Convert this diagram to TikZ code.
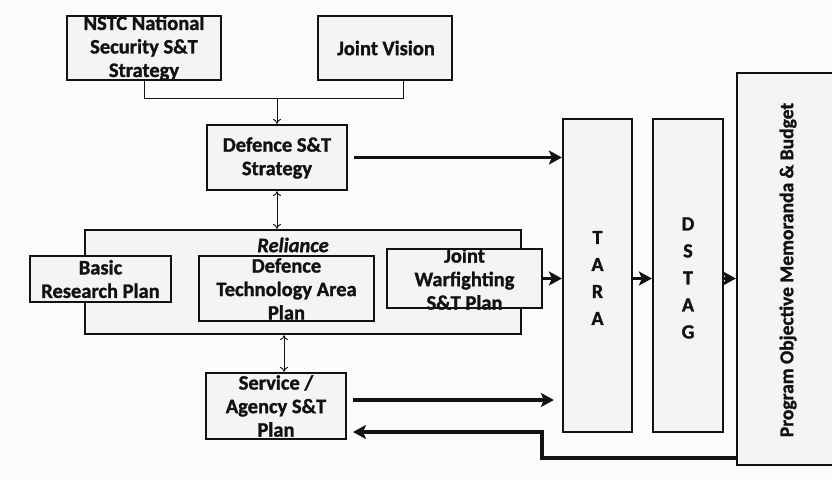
\documentclass[tikz,border=0pt]{standalone}
\usepackage{fontspec}
\setmainfont{Carlito}[BoldFeatures={FakeBold=1.3},BoldItalicFeatures={FakeBold=1.3}]
\usetikzlibrary{arrows.meta,calc}
\definecolor{bg}{gray}{0.985}
\definecolor{boxfill}{gray}{0.955}
\definecolor{ink}{gray}{0.07}
\begin{document}
\begin{tikzpicture}[x=1pt,y=-1pt,
 box/.style={draw=ink, line width=2.2pt, fill=boxfill, inner sep=0pt},
 lbl/.style={align=center, font=\fontsize{20.5}{23.5}\selectfont\bfseries, text=ink, inner sep=0pt},
 letters/.style={align=center, font=\fontsize{20}{27}\selectfont\bfseries, text=ink, inner sep=0pt},
 thin/.style={draw=ink, line width=0.9pt},
 thinarr/.style={thin, -{To[length=5pt,width=8pt]}},
 dblarr/.style={thin, {To[length=5pt,width=8pt]}-{To[length=5pt,width=8pt]}},
 bigarr/.style={draw=ink, line width=3.6pt, -{Stealth[length=13pt,width=14pt,inset=3pt]}}
]
\clip (0,0) rectangle (832,479);
\fill[bg] (0,0) rectangle (832,479);

% top boxes
\node[box, minimum width=154pt, minimum height=64pt] (nstc) at (144,48) {};
\node[lbl] (nstct) at (144,48) {NSTC National\\Security S\&T\\Strategy};
\node[box, minimum width=134pt, minimum height=64pt] (jv) at (385,48) {};
\node[lbl] (jvt) at (386,48) {Joint Vision};

% Defence S&T Strategy
\node[box, minimum width=140pt, minimum height=65pt] (def) at (277,157.5) {};
\node[lbl] (deft) at (277,158) {Defence S\&T\\Strategy};

% Reliance group
\node[box, minimum width=436pt, minimum height=104pt] (rel) at (303,282) {};
\node[lbl, font=\fontsize{20.5}{23.5}\selectfont\bfseries\itshape] (relt) at (293,245) {Reliance};
\node[box, minimum width=141pt, minimum height=46pt] (brp) at (100.5,279) {};
\node[lbl] (brpt) at (100.5,279) {Basic\\Research Plan};
\node[box, minimum width=175pt, minimum height=65pt] (dtap) at (286.5,288.5) {};
\node[lbl] (dtapt) at (286.5,289) {Defence\\Technology Area\\Plan};
\node[box, minimum width=155pt, minimum height=59pt] (jw) at (464.5,278.5) {};
\node[lbl] (jwt) at (464.5,279) {Joint\\Warfighting\\S\&T Plan};

% Service / Agency
\node[box, minimum width=140pt, minimum height=66pt] (svc) at (276,406) {};
\node[lbl] (svct) at (276,406) {Service /\\Agency S\&T\\Plan};

% TARA, DSTAG, Program
\node[box, minimum width=69pt, minimum height=313pt] (tara) at (597.5,275.5) {};
\node[letters] (tarat) at (597.5,278) {T\\A\\R\\A};
\node[box, minimum width=70pt, minimum height=313pt] (dstag) at (688,275.5) {};
\node[letters] (dstagt) at (688,278) {D\\S\\T\\A\\G};
\node[box, minimum width=103pt, minimum height=392pt] (prog) at (788.5,269) {};
\node[lbl, font=\fontsize{19.5}{23.5}\selectfont\bfseries, rotate=90] (progt) at (788,270) {Program Objective Memoranda \& Budget};

% thin connectors
\coordinate (merge) at (277,98);
\coordinate (jvtap) at ($(jv.south)+(18,0)$);
\draw[thin] (nstc.south) -- (nstc.south |- merge) -- (jvtap |- merge) -- (jvtap);
\draw[thinarr] (merge) -- (def.north);
\draw[dblarr] (def.south) -- (def.south |- rel.north);
\coordinate (dtx) at (284,0);
\draw[dblarr] (dtx |- rel.south) -- (dtx |- svc.north);

% thick arrows
\draw[bigarr] ([xshift=6pt]def.east) -- (tara.west |- def.east);
\draw[bigarr] (jw.east) -- (tara.west |- jw.east);
\draw[bigarr] (tara.east |- jw.east) -- (dstag.west |- jw.east);
\draw[bigarr] (dstag.east |- jw.east) -- (prog.west |- jw.east);
\coordinate (svcout) at (353,400);
\coordinate (svcin) at (353,432);
\coordinate (ret) at (542,458);
\draw[bigarr] (svcout) -- ([xshift=-8pt]tara.west |- svcout);
\draw[bigarr] (prog.west |- ret) -- (ret) |- (svcin);
\end{tikzpicture}
\end{document}
